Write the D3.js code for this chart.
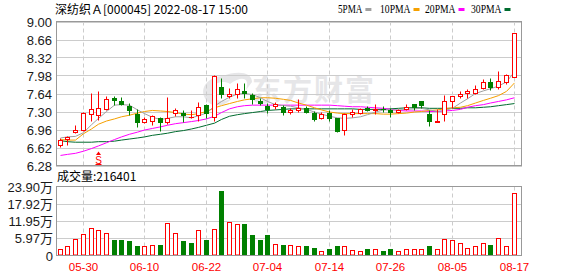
<!DOCTYPE html>
<html>
<head>
<meta charset="utf-8">
<script src="https://cdn.jsdelivr.net/npm/d3@7"></script>
<style>
  html, body { margin: 0; padding: 0; background: #fff; }
  svg { display: block; font-family: "Liberation Sans", Arial, sans-serif; }
</style>
</head>
<body>
<svg id="chart" width="578" height="276"></svg>
<script>
// trading days shown (2022)
const dates = ["05-25","05-26","05-27","05-30","05-31","06-01","06-02","06-06","06-07","06-08",
  "06-09","06-10","06-13","06-14","06-15","06-16","06-17","06-20","06-21","06-22",
  "06-23","06-24","06-27","06-28","06-29","06-30","07-01","07-04","07-05","07-06",
  "07-07","07-08","07-11","07-12","07-13","07-14","07-15","07-18","07-19","07-20",
  "07-21","07-22","07-25","07-26","07-27","07-28","07-29","08-01","08-02","08-03",
  "08-04","08-05","08-08","08-09","08-10","08-11","08-12","08-15","08-16","08-17"];

const open  = [6.66,6.78,6.92,6.95,7.25,7.23,7.34,7.55,7.50,7.40, 7.25,7.11,7.13,7.17,7.10,7.28,7.28,7.20,7.23,7.42,
               7.20,7.77,7.59,7.64,7.69,7.61,7.49,7.41,7.40,7.39, 7.29,7.32,7.37,7.28,7.18,7.27,7.17,6.96,7.25,7.27,
               7.37,7.34,7.35,7.32,7.30,7.35,7.44,7.49,7.26,7.12, 7.26,7.50,7.59,7.65,7.65,7.74,7.86,7.77,7.86,7.95];
const high  = [6.80,6.84,7.04,7.30,7.65,7.69,7.59,7.59,7.57,7.47, 7.34,7.19,7.23,7.19,7.58,7.37,7.32,7.32,7.48,7.45,
               7.98,7.94,7.74,7.84,7.83,7.65,7.56,7.46,7.48,7.42, 7.36,7.53,7.40,7.31,7.29,7.32,7.17,7.27,7.34,7.37,
               7.40,7.45,7.40,7.36,7.35,7.44,7.45,7.50,7.32,7.34, 7.61,7.60,7.68,7.73,7.80,7.91,7.93,8.07,8.00,8.78];
const low   = [6.63,6.66,6.90,6.94,7.12,7.14,7.33,7.42,7.42,7.23, 7.01,7.08,7.04,6.94,7.07,7.22,7.10,7.17,7.13,7.17,
               7.12,7.56,7.56,7.56,7.56,7.45,7.43,7.27,7.35,7.23, 7.25,7.29,7.27,7.13,7.16,7.13,6.92,6.85,7.20,7.26,
               7.31,7.26,7.30,7.20,7.28,7.32,7.33,7.37,7.02,7.12, 7.12,7.37,7.56,7.56,7.63,7.72,7.70,7.72,7.82,7.95];
const close = [6.77,6.82,6.95,7.28,7.34,7.36,7.53,7.51,7.44,7.32, 7.11,7.16,7.21,7.11,7.17,7.32,7.24,7.20,7.39,7.28,
               7.97,7.63,7.64,7.72,7.65,7.53,7.46,7.34,7.45,7.29, 7.32,7.37,7.29,7.15,7.26,7.18,6.93,7.26,7.30,7.34,
               7.33,7.35,7.34,7.29,7.32,7.39,7.39,7.42,7.13,7.13, 7.49,7.60,7.63,7.68,7.72,7.86,7.77,7.87,7.98,8.78];

// volume (shares)
const volume = [23100,33500,57700,75000,95800,88900,78500,55400,55400,48500,
  34600,33500,36900,38100,113200,78500,48500,41600,88900,52000,
  92400,221700,116600,107400,107400,69300,52000,69300,40400,38100,
  38100,33500,31200,27700,17300,20800,34600,33500,19600,17300,
  24200,24200,17300,20800,16200,20800,24200,24200,34600,20800,
  57700,52000,41600,27700,34600,41600,38100,61200,34600,216401];

// moving averages as drawn
const ma5  = [6.80,6.82,6.83,6.90,7.05,7.17,7.30,7.42,7.43,7.42, 7.33,7.26,7.19,7.15,7.17,7.20,7.20,7.18,7.22,7.27,
              7.40,7.49,7.57,7.63,7.64,7.62,7.56,7.49,7.43,7.41, 7.40,7.37,7.34,7.29,7.25,7.21,7.18,7.17,7.18,7.20,
              7.24,7.29,7.33,7.33,7.33,7.34,7.35,7.36,7.33,7.30, 7.32,7.36,7.46,7.54,7.64,7.69,7.73,7.78,7.86,8.05];
const ma10 = [6.77,6.76,6.76,6.88,6.97,7.06,7.12,7.16,7.20,7.23, 7.27,7.30,7.32,7.31,7.30,7.28,7.25,7.24,7.26,7.30,
              7.37,7.41,7.45,7.49,7.52,7.54,7.56,7.56,7.55,7.53, 7.51,7.46,7.42,7.37,7.33,7.29,7.27,7.26,7.26,7.26,
              7.26,7.26,7.25,7.25,7.26,7.27,7.29,7.30,7.32,7.33, 7.35,7.37,7.38,7.41,7.46,7.51,7.55,7.60,7.68,7.84];
const ma20 = [6.47,6.49,6.51,6.55,6.60,6.65,6.71,6.77,6.82,6.87, 6.91,6.95,6.98,7.01,7.04,7.07,7.09,7.11,7.13,7.16,
              7.21,7.28,7.35,7.39,7.41,7.42,7.42,7.42,7.42,7.42, 7.42,7.42,7.42,7.42,7.42,7.42,7.41,7.40,7.39,7.39,
              7.38,7.37,7.36,7.34,7.32,7.31,7.31,7.31,7.30,7.30, 7.31,7.32,7.34,7.38,7.41,7.43,7.46,7.49,7.52,7.56];
const ma30 = [6.75,6.73,6.72,6.72,6.72,6.73,6.73,6.74,6.76,6.78, 6.80,6.82,6.85,6.87,6.89,6.92,6.94,6.97,7.00,7.04,
              7.08,7.15,7.21,7.24,7.26,7.28,7.30,7.32,7.33,7.34, 7.35,7.35,7.35,7.35,7.35,7.35,7.35,7.35,7.35,7.34,
              7.34,7.34,7.34,7.35,7.36,7.37,7.37,7.37,7.36,7.36, 7.36,7.36,7.36,7.37,7.37,7.38,7.39,7.41,7.43,7.45];

const priceTicks = [6.28,6.62,6.96,7.30,7.64,7.98,8.32,8.66,9.00];
const volTicks = [0,59750,119500,179250,239000];
const volTickLabels = ["0","5.97万","11.95万","17.92万","23.90万"];
const dateTicks = ["05-30","06-10","06-22","07-04","07-14","07-26","08-05","08-17"];
const signals = [{date: "06-01", label: "S"}];

const RED = "#ff0000", GREEN = "#008000", GRID = "#cccccc", FRAME = "#999999";

const svg = d3.select("#chart");
const left = 56, right = 522;
const pTop = 21.5, pBot = 165.5, vTop = 186.5, vBot = 255.5;

const x = d3.scalePoint().domain(dates).range([60.3, 514]);
const y = d3.scaleLinear().domain([6.28, 9.00]).range([pBot, pTop]);
const yv = d3.scaleLinear().domain([0, 239000]).range([vBot, vTop]);

const bw = 5;
const bx = (d) => Math.round(x(d) - bw / 2);
const cx = (d) => bx(d) + 2.5;
const py = (v) => Math.round(y(v)) + 0.5;

// header
svg.append("text").attr("x", 55).attr("y", 14)
  .attr("font-size", 12).attr("fill", "#000")
  .attr("font-family", "'Noto Sans CJK SC', 'Liberation Sans', sans-serif")
  .text("深纺织Ａ[000045] 2022-08-17 15:00");

const legend = [
  {name: "5PMA", color: "#a0a0a0", x: 338},
  {name: "10PMA", color: "#f5a000", x: 380},
  {name: "20PMA", color: "#ff00ff", x: 425},
  {name: "30PMA", color: "#006b2e", x: 471}
];
const lg = svg.append("g").selectAll("g").data(legend).join("g");
lg.append("text").attr("x", (d) => d.x).attr("y", 13)
  .attr("font-size", 12).attr("fill", "#000")
  .attr("font-family", "'Liberation Serif', serif")
  .attr("textLength", (d) => d.name.length * 6.1).attr("lengthAdjust", "spacingAndGlyphs")
  .text((d) => d.name);
lg.append("rect").attr("x", (d) => d.x + d.name.length * 6.1 + 3).attr("y", 8)
  .attr("width", 6).attr("height", 3).attr("fill", (d) => d.color);

// watermark
const wm = svg.append("g").attr("fill", "#e6e6e8");
wm.append("path")
  .attr("d", "M222,76 C204,78 198,92 208,102 C214,108 226,106 232,98 C222,104 210,100 212,90 C214,82 224,80 230,84 C244,74 250,80 246,90 L252,82 C252,72 238,70 222,76 Z");
wm.append("text").attr("x", 252).attr("y", 101)
  .attr("font-size", 29).attr("font-weight", "bold").attr("letter-spacing", 2)
  .attr("font-family", "'Noto Sans CJK SC', sans-serif")
  .text("东方财富");

// grids
const grid = svg.append("g");
grid.selectAll("line.h").data(priceTicks).join("line")
  .attr("x1", left).attr("x2", right)
  .attr("y1", (d) => py(d)).attr("y2", (d) => py(d))
  .attr("stroke", GRID);
grid.selectAll("line.hv").data(volTicks.slice(1, 4)).join("line")
  .attr("x1", left).attr("x2", right)
  .attr("y1", (d) => Math.round(yv(d)) + 0.5).attr("y2", (d) => Math.round(yv(d)) + 0.5)
  .attr("stroke", GRID);
dateTicks.forEach((d) => {
  [[pTop, pBot], [vTop, vBot]].forEach(([a, b]) => {
    grid.append("line").attr("x1", cx(d)).attr("x2", cx(d))
      .attr("y1", a).attr("y2", b)
      .attr("stroke", GRID).attr("stroke-dasharray", "4,3");
  });
});

// price axis labels
svg.append("g").selectAll("text").data(priceTicks).join("text")
  .attr("x", 52).attr("y", (d) => y(d) + 5)
  .attr("text-anchor", "end").attr("font-size", 13).attr("fill", "#1a1a1a")
  .text((d) => d.toFixed(2));

svg.append("g").selectAll("text").data(volTicks).join("text")
  .attr("x", 53).attr("y", (d) => yv(d) + 5)
  .attr("text-anchor", "end").attr("font-size", 13).attr("fill", "#1a1a1a")
  .attr("font-family", "'Liberation Sans', 'Noto Sans CJK SC', sans-serif")
  .text((d, i) => volTickLabels[i]);

svg.append("g").selectAll("text").data(dateTicks).join("text")
  .attr("x", (d) => cx(d)).attr("y", 271)
  .attr("text-anchor", "middle").attr("font-size", 11.5).attr("fill", RED)
  .text((d) => d);

// moving averages
const maSeries = [
  {values: ma30, color: "#006b2e"},
  {values: ma20, color: "#ff00ff"},
  {values: ma10, color: "#f5a000"},
  {values: ma5, color: "#a0a0a0"}
];
const line = d3.line().x((d, i) => cx(dates[i])).y((d) => y(d));
svg.append("g").selectAll("path").data(maSeries).join("path")
  .attr("d", (d) => line(d.values))
  .attr("fill", "none").attr("stroke", (d) => d.color).attr("stroke-width", 1);

// candles
const bars = dates.map((d, i) => ({
  date: d, o: open[i], h: high[i], l: low[i], c: close[i], v: volume[i],
  volUp: i === 0 ? close[i] >= open[i] : close[i] >= close[i - 1]
}));

const cg = svg.append("g");
bars.forEach((b) => {
  const xc = cx(b.date);
  if (b.c > b.o) {
    const t = py(b.c), btm = py(b.o);
    cg.append("line").attr("x1", xc).attr("x2", xc).attr("y1", py(b.h)).attr("y2", t).attr("stroke", RED);
    cg.append("line").attr("x1", xc).attr("x2", xc).attr("y1", btm).attr("y2", py(b.l)).attr("stroke", RED);
    cg.append("rect").attr("x", bx(b.date) + 0.5).attr("y", t)
      .attr("width", bw - 1).attr("height", Math.max(1, btm - t))
      .attr("fill", "#fff").attr("stroke", RED);
  } else if (b.c < b.o) {
    const t = Math.round(y(b.o)), btm = Math.round(y(b.c));
    cg.append("line").attr("x1", xc).attr("x2", xc).attr("y1", py(b.h)).attr("y2", py(b.l)).attr("stroke", GREEN);
    cg.append("rect").attr("x", bx(b.date)).attr("y", t)
      .attr("width", bw).attr("height", Math.max(1, btm - t + 1)).attr("fill", GREEN);
  } else {
    cg.append("line").attr("x1", xc).attr("x2", xc).attr("y1", py(b.h)).attr("y2", py(b.l)).attr("stroke", RED);
    cg.append("line").attr("x1", bx(b.date)).attr("x2", bx(b.date) + bw)
      .attr("y1", py(b.c)).attr("y2", py(b.c)).attr("stroke", RED);
  }
});

// signal marker
signals.forEach((s) => {
  const xc = cx(s.date);
  svg.append("path").attr("d", `M${xc - 2.5},155 L${xc},151.5 L${xc + 2.5},155 Z`).attr("fill", RED);
  svg.append("text").attr("x", xc).attr("y", 163.5).attr("text-anchor", "middle")
    .attr("font-size", 10).attr("fill", RED).text(s.label);
  svg.append("line").attr("x1", xc - 3).attr("x2", xc + 3).attr("y1", 164.5).attr("y2", 164.5).attr("stroke", RED);
});

// volume bars
const vg = svg.append("g");
bars.forEach((b) => {
  const t = Math.round(yv(b.v));
  if (b.volUp) {
    vg.append("rect").attr("x", bx(b.date) + 0.5).attr("y", t + 0.5)
      .attr("width", bw - 1).attr("height", Math.max(1, vBot - 0.5 - t - 0.5))
      .attr("fill", "#fff").attr("stroke", RED);
  } else {
    vg.append("rect").attr("x", bx(b.date)).attr("y", t)
      .attr("width", bw).attr("height", vBot - 0.5 - t).attr("fill", GREEN);
  }
});

svg.append("text").attr("x", 57).attr("y", 181)
  .attr("font-size", 12).attr("fill", "#000")
  .attr("font-family", "'Noto Sans CJK SC', 'Liberation Sans', sans-serif")
  .text("成交量:" + volume[volume.length - 1]);

// frames
[[pTop, pBot], [vTop, vBot]].forEach(([a, b]) => {
  svg.append("rect").attr("x", left + 0.5).attr("y", a)
    .attr("width", right - left - 1).attr("height", b - a)
    .attr("fill", "none").attr("stroke", FRAME);
});
</script>
</body>
</html>
